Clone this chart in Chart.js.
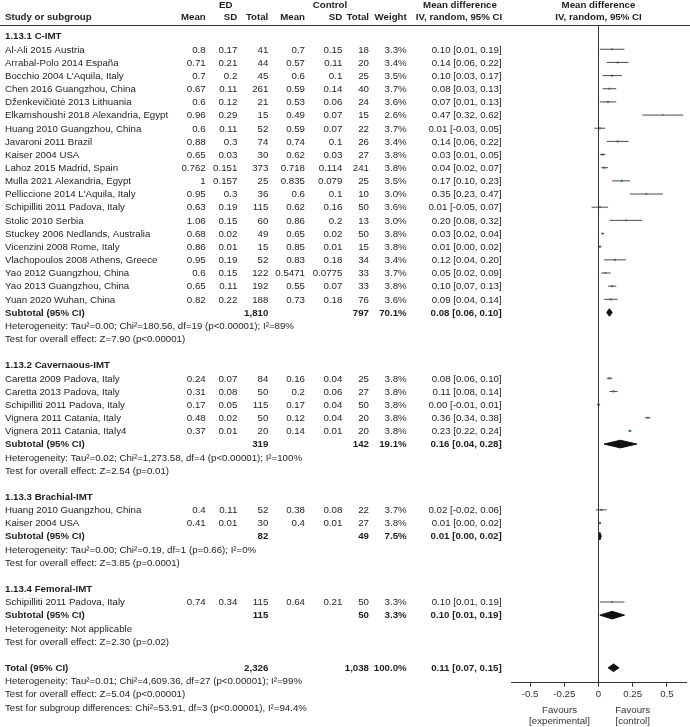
<!DOCTYPE html>
<html>
<head>
<meta charset="utf-8">
<script src="https://cdn.jsdelivr.net/npm/chart.js@4.4.1/dist/chart.umd.min.js"></script>
<style>
  html, body { margin: 0; padding: 0; background: #fff; }
  #wrap { width: 690px; height: 727px; }
</style>
</head>
<body>
<div id="wrap"><canvas id="forest" width="690" height="727"></canvas></div>
<script>
// subgroups
const groupTitles = ['1.13.1 C-IMT', '1.13.2 Cavernaous-IMT', '1.13.3 Brachial-IMT', '1.13.4 Femoral-IMT'];
const groupSizes = [20, 5, 2, 1];

// studies (in plot order)
const studyNames = [
  'Al-Ali 2015 Austria', 'Arrabal-Polo 2014 España', "Bocchio 2004 L'Aquila, Italy",
  'Chen 2016 Guangzhou, China', 'Dženkevičiūtė 2013 Lithuania', 'Elkamshoushi 2018 Alexandria, Egypt',
  'Huang 2010 Guangzhou, China', 'Javaroni 2011 Brazil', 'Kaiser 2004 USA', 'Lahoz 2015 Madrid, Spain',
  'Mulla 2021 Alexandria, Egypt', "Pelliccione 2014 L'Aquila, Italy", 'Schipilliti 2011 Padova, Italy',
  'Stolic 2010 Serbia', 'Stuckey 2006 Nedlands, Australia', 'Vicenzini 2008 Rome, Italy',
  'Vlachopoulos 2008 Athens, Greece', 'Yao 2012 Guangzhou, China', 'Yao 2013 Guangzhou, China',
  'Yuan 2020 Wuhan, China',
  'Caretta 2009 Padova, Italy', 'Caretta 2013 Padova, Italy', 'Schipilliti 2011 Padova, Italy',
  'Vignera 2011 Catania, Italy', 'Vignera 2011 Catania, Italy4',
  'Huang 2010 Guangzhou, China', 'Kaiser 2004 USA',
  'Schipilliti 2011 Padova, Italy'
];
const edMean = ['0.8','0.71','0.7','0.67','0.6','0.96','0.6','0.88','0.65','0.762','1','0.95','0.63','1.06','0.68','0.86','0.95','0.6','0.65','0.82',
  '0.24','0.31','0.17','0.48','0.37', '0.4','0.41', '0.74'];
const edSD = ['0.17','0.21','0.2','0.11','0.12','0.29','0.11','0.3','0.03','0.151','0.157','0.3','0.19','0.15','0.02','0.01','0.19','0.15','0.11','0.22',
  '0.07','0.08','0.05','0.02','0.01', '0.11','0.01', '0.34'];
const edTotal = [41,44,45,261,21,15,52,74,30,373,25,36,115,60,49,15,52,122,192,188, 84,50,115,50,20, 52,30, 115];
const ctMean = ['0.7','0.57','0.6','0.59','0.53','0.49','0.59','0.74','0.62','0.718','0.835','0.6','0.62','0.86','0.65','0.85','0.83','0.5471','0.55','0.73',
  '0.16','0.2','0.17','0.12','0.14', '0.38','0.4', '0.64'];
const ctSD = ['0.15','0.11','0.1','0.14','0.06','0.07','0.07','0.1','0.03','0.114','0.079','0.1','0.16','0.2','0.02','0.01','0.18','0.0775','0.07','0.18',
  '0.04','0.06','0.04','0.04','0.01', '0.08','0.01', '0.21'];
const ctTotal = [18,20,25,40,24,15,22,26,27,241,25,10,50,13,50,15,34,33,33,76, 25,27,50,20,20, 22,27, 50];
const weights = [3.3,3.4,3.5,3.7,3.6,2.6,3.7,3.4,3.8,3.8,3.5,3.0,3.6,3.0,3.8,3.8,3.4,3.7,3.8,3.6, 3.8,3.8,3.8,3.8,3.8, 3.7,3.8, 3.3];
const md = [0.10,0.14,0.10,0.08,0.07,0.47,0.01,0.14,0.03,0.04,0.17,0.35,0.01,0.20,0.03,0.01,0.12,0.05,0.10,0.09, 0.08,0.11,0.00,0.36,0.23, 0.02,0.01, 0.10];
const ciLow = [0.01,0.06,0.03,0.03,0.01,0.32,-0.03,0.06,0.01,0.02,0.10,0.23,-0.05,0.08,0.02,0.00,0.04,0.02,0.07,0.04, 0.06,0.08,-0.01,0.34,0.22, -0.02,0.00, 0.01];
const ciHigh = [0.19,0.22,0.17,0.13,0.13,0.62,0.05,0.22,0.05,0.07,0.23,0.47,0.07,0.32,0.04,0.02,0.20,0.09,0.13,0.14, 0.10,0.14,0.01,0.38,0.24, 0.06,0.02, 0.19];

// subtotals per subgroup
const subEdTotal = ['1,810', '319', '82', '115'];
const subCtTotal = ['797', '142', '49', '50'];
const subWeight = ['70.1%', '19.1%', '7.5%', '3.3%'];
const subMd = [0.08, 0.16, 0.01, 0.10];
const subLow = [0.06, 0.04, 0.00, 0.01];
const subHigh = [0.10, 0.28, 0.02, 0.19];
const subHet = [
  'Heterogeneity: Tau²=0.00; Chi²=180.56, df=19 (p<0.00001); I²=89%',
  'Heterogeneity: Tau²=0.02; Chi²=1,273.58, df=4 (p<0.00001); I²=100%',
  'Heterogeneity: Tau²=0.00; Chi²=0.19, df=1 (p=0.66); I²=0%',
  'Heterogeneity: Not applicable'
];
const subEffect = [
  'Test for overall effect: Z=7.90 (p<0.00001)',
  'Test for overall effect: Z=2.54 (p=0.01)',
  'Test for overall effect: Z=3.85 (p=0.0001)',
  'Test for overall effect: Z=2.30 (p=0.02)'
];

// overall
const totalEd = '2,326', totalCt = '1,038', totalWeight = '100.0%';
const totalMd = 0.11, totalLow = 0.07, totalHigh = 0.15;
const totalNotes = [
  'Heterogeneity: Tau²=0.01; Chi²=4,609.36, df=27 (p<0.00001); I²=99%',
  'Test for overall effect: Z=5.04 (p<0.00001)',
  'Test for subgroup differences: Chi²=53.91, df=3 (p<0.00001), I²=94.4%'
];

// x axis
const xTicks = [-0.5, -0.25, 0, 0.25, 0.5];
const xTickLabels = ['-0.5', '-0.25', '0', '0.25', '0.5'];

// work out which row everything sits on
const titleRows = [], studyRows = [], subRows = [];
let row = 0;
groupSizes.forEach(n => {
  titleRows.push(row++);
  for (let i = 0; i < n; i++) studyRows.push(row++);
  subRows.push(row);
  row += 4; // subtotal, heterogeneity, test, blank
});
const totalRow = row;

const FONT = '"Liberation Sans", Arial, sans-serif';
const FS = 9.7;
const TXT = '#1e1e1e';
// right edges of the table columns
const col = { edMean: 205.7, edSD: 237.3, edTot: 268.3, ctMean: 305, ctSD: 342.3, ctTot: 369, weight: 406.7, ci: 501.7 };

const fmt = v => v.toFixed(2);
const ciText = (m, lo, hi) => fmt(m) + ' [' + fmt(lo) + ', ' + fmt(hi) + ']';

// CI whiskers: one line dataset, broken between studies
const whiskers = [];
studyRows.forEach((r, i) => {
  whiskers.push({ x: ciLow[i], y: r }, { x: ciHigh[i], y: r }, { x: ciHigh[i], y: null });
});

const DH = 0.29; // diamond half height, in rows
function diamond(m, lo, hi, r) {
  return [{ x: lo, y: r }, { x: m, y: r - DH }, { x: hi, y: r }, { x: m, y: r + DH }, { x: lo, y: r }];
}
const diamondSets = subRows.map((r, i) => diamond(subMd[i], subLow[i], subHigh[i], r));
diamondSets.push(diamond(totalMd, totalLow, totalHigh, totalRow));

const Y_MIN = -0.845, Y_MAX = 49.13;

const tablePlugin = {
  id: 'forestTable',
  afterDraw(chart) {
    const ctx = chart.ctx;
    const ys = chart.scales.y, xs = chart.scales.x;
    const py = r => ys.getPixelForValue(r) + 0.6;
    ctx.save();
    ctx.fillStyle = TXT;
    ctx.textBaseline = 'middle';
    // y here is a pixel position
    const put = (s, x, y, align, bold) => {
      ctx.font = (bold ? 'bold ' : '') + FS + 'px ' + FONT;
      ctx.textAlign = align || 'left';
      ctx.fillText(String(s), x, y);
    };

    // header
    const h1 = 5.5, h2 = 17.8;
    const x0 = xs.getPixelForValue(0);
    put('ED', 225.8, h1, 'center', true);
    put('Control', 330, h1, 'center', true);
    put('Mean difference', 460, h1, 'center', true);
    put('Mean difference', x0, h1, 'center', true);
    put('Study or subgroup', 5, h2, 'left', true);
    put('Mean', col.edMean, h2, 'right', true);
    put('SD', col.edSD, h2, 'right', true);
    put('Total', col.edTot, h2, 'right', true);
    put('Mean', col.ctMean, h2, 'right', true);
    put('SD', col.ctSD, h2, 'right', true);
    put('Total', col.ctTot, h2, 'right', true);
    put('Weight', col.weight, h2, 'right', true);
    put('IV, random, 95% CI', 459, h2, 'center', true);
    put('IV, random, 95% CI', x0, h2, 'center', true);

    ctx.strokeStyle = '#333';
    ctx.lineWidth = 1;
    ctx.beginPath();
    ctx.moveTo(0, chart.chartArea.top + 0.5);
    ctx.lineTo(690, chart.chartArea.top + 0.5);
    ctx.stroke();

    groupTitles.forEach((t, g) => put(t, 5, py(titleRows[g]), 'left', true));

    studyRows.forEach((r, i) => {
      const y = py(r);
      put(studyNames[i], 5, y);
      put(edMean[i], col.edMean, y, 'right');
      put(edSD[i], col.edSD, y, 'right');
      put(edTotal[i], col.edTot, y, 'right');
      put(ctMean[i], col.ctMean, y, 'right');
      put(ctSD[i], col.ctSD, y, 'right');
      put(ctTotal[i], col.ctTot, y, 'right');
      put(weights[i].toFixed(1) + '%', col.weight, y, 'right');
      put(ciText(md[i], ciLow[i], ciHigh[i]), col.ci, y, 'right');
    });

    subRows.forEach((r, g) => {
      const y = py(r);
      put('Subtotal (95% CI)', 5, y, 'left', true);
      put(subEdTotal[g], col.edTot, y, 'right', true);
      put(subCtTotal[g], col.ctTot, y, 'right', true);
      put(subWeight[g], col.weight, y, 'right', true);
      put(ciText(subMd[g], subLow[g], subHigh[g]), col.ci, y, 'right', true);
      put(subHet[g], 5, py(r + 1));
      put(subEffect[g], 5, py(r + 2));
    });

    const yt = py(totalRow);
    put('Total (95% CI)', 5, yt, 'left', true);
    put(totalEd, col.edTot, yt, 'right', true);
    put(totalCt, col.ctTot, yt, 'right', true);
    put(totalWeight, col.weight, yt, 'right', true);
    put(ciText(totalMd, totalLow, totalHigh), col.ci, yt, 'right', true);
    totalNotes.forEach((t, i) => put(t, 5, py(totalRow + 1 + i)));

    // favours labels under the axis
    ctx.fillStyle = '#333';
    const xl = xs.getPixelForValue(-0.285), xr = xs.getPixelForValue(0.25);
    put('Favours', xl, 710.5, 'center');
    put('[experimental]', xl, 721, 'center');
    put('Favours', xr, 710.5, 'center');
    put('[control]', xr, 721, 'center');
    ctx.restore();
  }
};

new Chart(document.getElementById('forest'), {
  type: 'scatter',
  data: {
    datasets: [
      {
        type: 'line',
        data: [{ x: 0, y: Y_MIN }, { x: 0, y: Y_MAX }],
        borderColor: '#333', borderWidth: 1, pointRadius: 0
      },
      {
        type: 'line',
        data: whiskers,
        borderColor: '#4a4a4a', borderWidth: 1, pointRadius: 0, spanGaps: false
      },
      {
        type: 'scatter',
        data: studyRows.map((r, i) => ({ x: md[i], y: r })),
        pointStyle: 'rect',
        pointRadius: weights.map(w => Math.sqrt(w) * 0.8),
        backgroundColor: '#3fbf3f', borderWidth: 0
      },
      ...diamondSets.map(d => ({
        type: 'line',
        data: d,
        borderColor: '#111', backgroundColor: '#111', borderWidth: 1,
        pointRadius: 0, fill: 'shape', tension: 0
      }))
    ]
  },
  options: {
    responsive: false,
    animation: false,
    events: [],
    layout: { padding: { left: 511, right: 3.1, top: 25, bottom: 24.7 } },
    plugins: { legend: { display: false }, tooltip: { enabled: false } },
    scales: {
      x: {
        type: 'linear', min: -0.64, max: 0.64,
        afterBuildTicks: s => { s.ticks = xTicks.map(v => ({ value: v })); },
        ticks: {
          callback: (v, i) => xTickLabels[i],
          font: { size: FS, family: FONT }, color: '#333', padding: 2,
          maxRotation: 0, autoSkip: false
        },
        grid: { drawOnChartArea: false, drawTicks: true, tickLength: 4, color: '#333' },
        border: { display: true, color: '#333', width: 1 }
      },
      y: { type: 'linear', reverse: true, min: Y_MIN, max: Y_MAX, display: false }
    }
  },
  plugins: [tablePlugin]
});
</script>
</body>
</html>
